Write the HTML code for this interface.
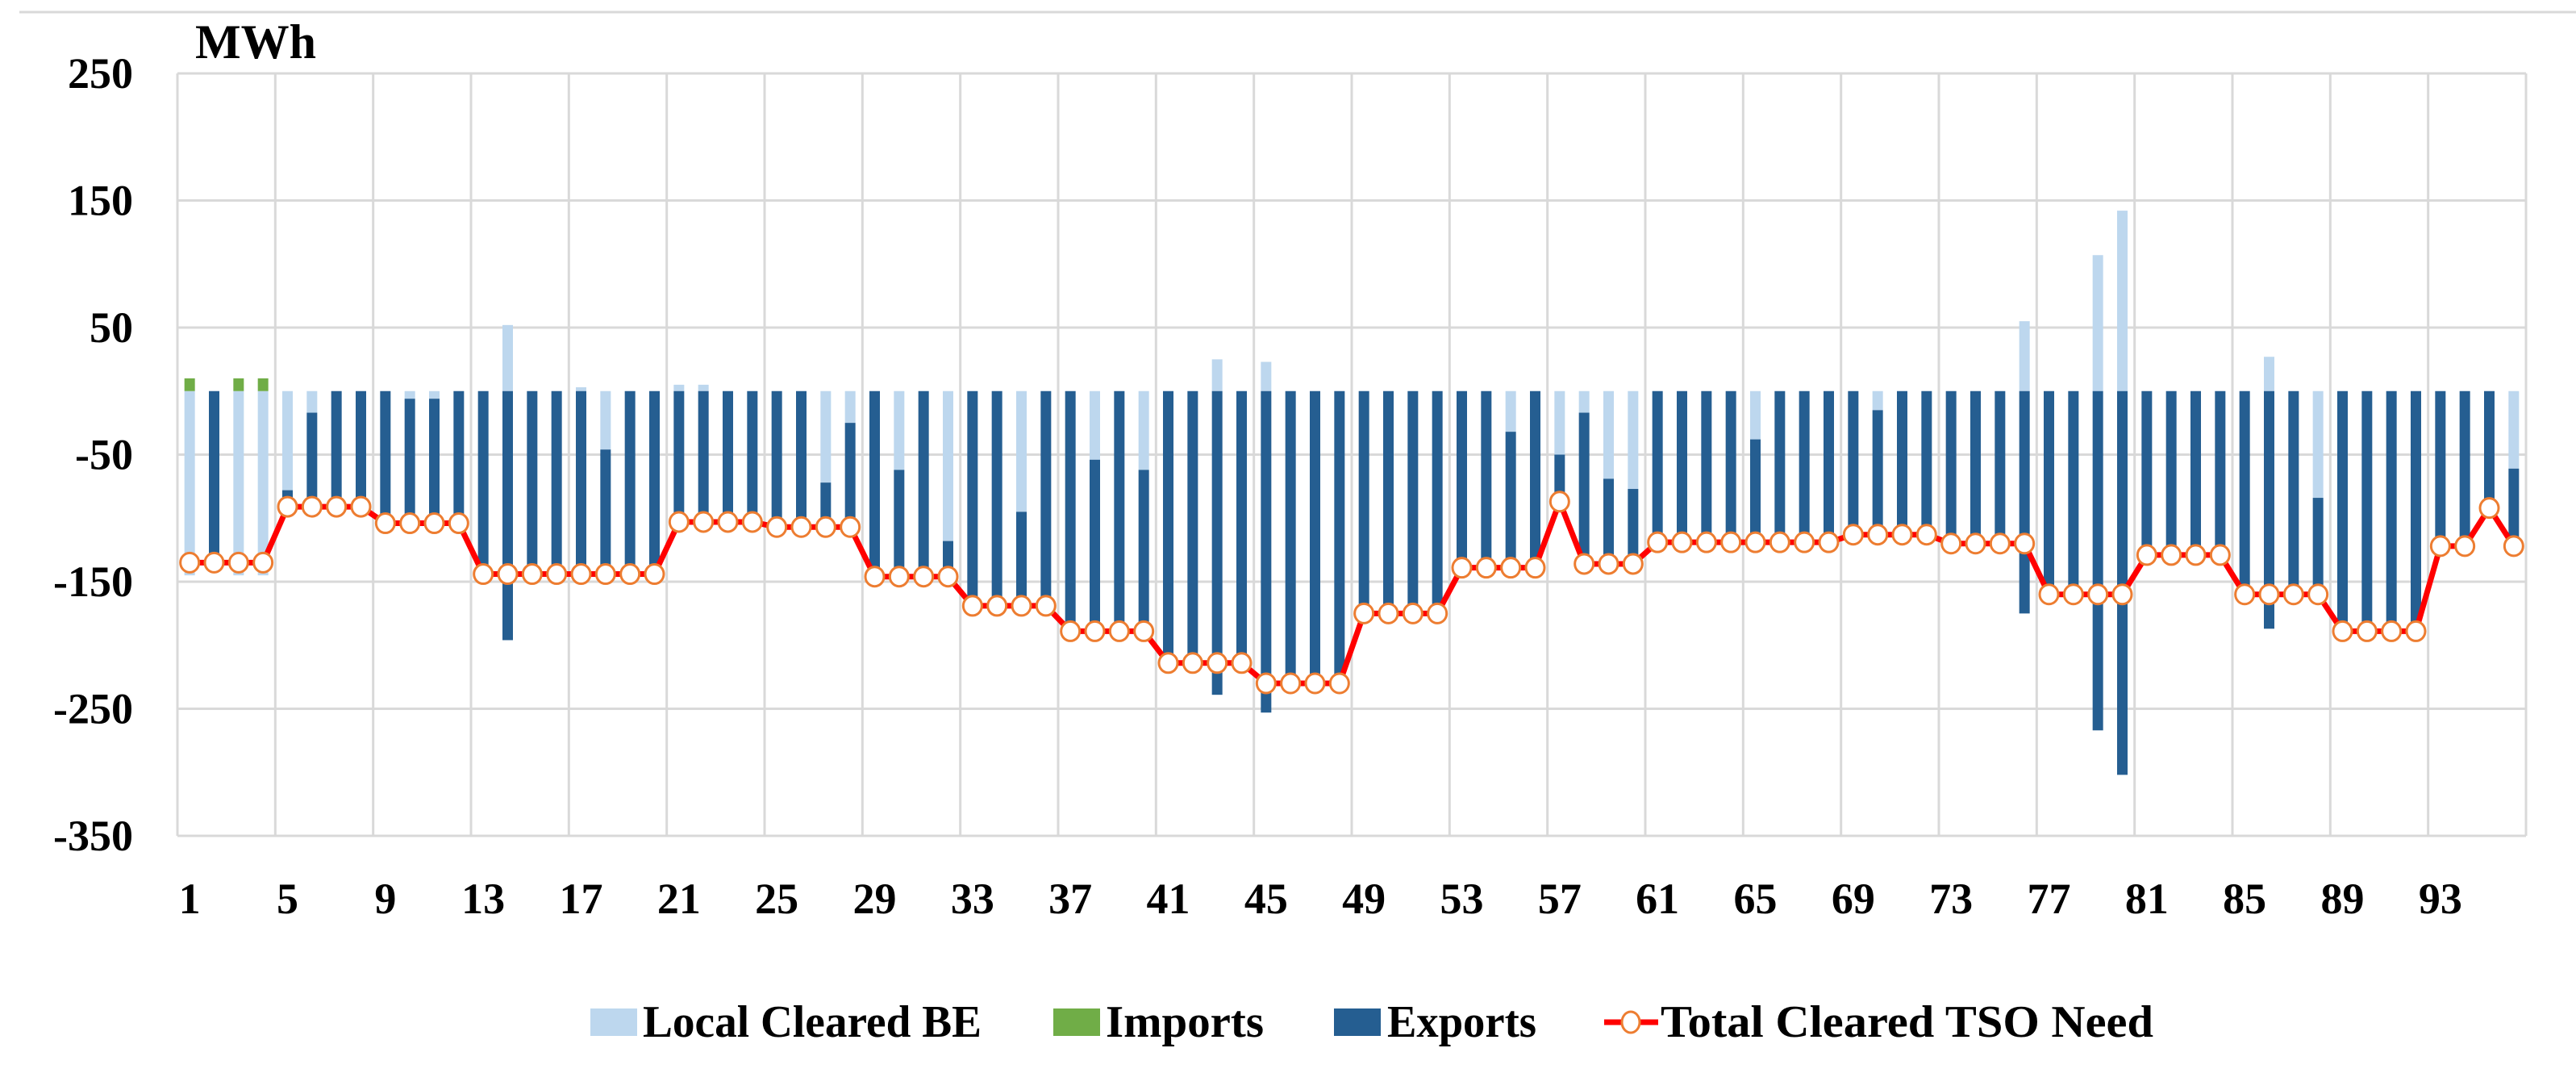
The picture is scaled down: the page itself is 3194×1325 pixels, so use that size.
<!DOCTYPE html>
<html><head><meta charset="utf-8"><style>
html,body{margin:0;padding:0;background:#fff}
svg{display:block}
text{font-family:"Liberation Serif",serif;fill:#000}
</style></head><body>
<svg id="chart" width="3194" height="1325" viewBox="0 0 3194 1325" xmlns="http://www.w3.org/2000/svg">
<line x1="24" y1="15" x2="3194" y2="15" stroke="#d9d9d9" stroke-width="3"/>
<text x="242" y="72" font-size="60" font-weight="bold">MWh</text>
<g id="grid"></g>
<g id="bars"></g>
<g id="line"></g>
<g id="axes"></g>
<g id="legend">
  <g>
    <rect x="732" y="1250" width="58" height="34" fill="#bdd7ee"/>
    <text x="797" y="1285" font-size="56" font-weight="bold" textLength="420" lengthAdjust="spacingAndGlyphs">Local Cleared BE</text>
  </g>
  <g>
    <rect x="1306" y="1250" width="58" height="34" fill="#70ad47"/>
    <text x="1371" y="1285" font-size="56" font-weight="bold" textLength="196" lengthAdjust="spacingAndGlyphs">Imports</text>
  </g>
  <g>
    <rect x="1654" y="1250" width="58" height="34" fill="#255e91"/>
    <text x="1720" y="1285" font-size="56" font-weight="bold" textLength="185" lengthAdjust="spacingAndGlyphs">Exports</text>
  </g>
  <g>
    <line x1="1989" y1="1267" x2="2056" y2="1267" stroke="#ff0000" stroke-width="7"/>
    <ellipse cx="2022" cy="1267" rx="11" ry="13" fill="#fff" stroke="#ed7d31" stroke-width="3"/>
    <text x="2059" y="1285" font-size="56" font-weight="bold" textLength="611" lengthAdjust="spacingAndGlyphs">Total Cleared TSO Need</text>
  </g>
</g>
</svg>
<script>
const localBE = [-145,0,-145,-145,-78,-17,0,0,0,-6,-6,0,0,52,0,0,3,-46,0,0,
5,5,0,0,0,0,-72,-25,0,-62,0,-118,0,0,-95,0,0,-54,0,-62,
0,0,25,0,23,0,0,0,0,0,0,0,0,0,-32,0,-50,-17,-69,-77,
0,0,0,0,-38,0,0,0,0,-15,0,0,0,0,0,55,0,0,107,142,
0,0,0,0,0,27,0,-84,0,0,0,0,0,0,0,-61];
const imports = [10,0,10,10,0,0,0,0,0,0,0,0,0,0,0,0,0,0,0,0,
0,0,0,0,0,0,0,0,0,0,0,0,0,0,0,0,0,0,0,0,
0,0,0,0,0,0,0,0,0,0,0,0,0,0,0,0,0,0,0,0,
0,0,0,0,0,0,0,0,0,0,0,0,0,0,0,0,0,0,0,0,
0,0,0,0,0,0,0,0,0,0,0,0,0,0,0,0];
const exportsV = [0,-135,0,0,-13,-74,-91,-91,-104,-98,-98,-104,-144,-196,-144,-144,-147,-98,-144,-144,
-108,-108,-103,-103,-107,-107,-35,-82,-146,-84,-146,-28,-169,-169,-74,-169,-189,-135,-189,-127,
-214,-214,-239,-214,-253,-230,-230,-230,-175,-175,-175,-175,-139,-139,-107,-139,-37,-119,-67,-59,
-119,-119,-119,-119,-81,-119,-119,-119,-113,-98,-113,-113,-120,-120,-120,-175,-160,-160,-267,-302,
-129,-129,-129,-129,-160,-187,-160,-76,-189,-189,-189,-189,-122,-122,-92,-61];
const totalNeed = [-135,-135,-135,-135,-91,-91,-91,-91,-104,-104,-104,-104,-144,-144,-144,-144,-144,-144,-144,-144,
-103,-103,-103,-103,-107,-107,-107,-107,-146,-146,-146,-146,-169,-169,-169,-169,-189,-189,-189,-189,
-214,-214,-214,-214,-230,-230,-230,-230,-175,-175,-175,-175,-139,-139,-139,-139,-87,-136,-136,-136,
-119,-119,-119,-119,-119,-119,-119,-119,-113,-113,-113,-113,-120,-120,-120,-120,-160,-160,-160,-160,
-129,-129,-129,-129,-160,-160,-160,-160,-189,-189,-189,-189,-122,-122,-92,-122];
const yTicks = [250,150,50,-50,-150,-250,-350];
const xTickLabels = ["1","5","9","13","17","21","25","29","33","37","41","45","49","53","57","61","65","69","73","77","81","85","89","93"];

const NS = "http://www.w3.org/2000/svg";
const L = 220, R = 3132, T = 91, B = 1036, yMax = 250, yMin = -350;
const n = localBE.length, cw = (R - L) / n, bw = 13;
const y = v => T + (yMax - v) / (yMax - yMin) * (B - T);
const x = i => L + (i + 0.5) * cw;
function mk(tag, parent, attrs) { const e = document.createElementNS(NS, tag); for (const k in attrs) e.setAttribute(k, attrs[k]); parent.appendChild(e); return e; }
const grid = document.getElementById('grid'), bars = document.getElementById('bars'), line = document.getElementById('line'), axes = document.getElementById('axes');

yTicks.forEach(t => {
  const g = mk('line', grid, {x1: L, x2: R, y1: y(t), y2: y(t), stroke: '#d9d9d9', 'stroke-width': 3});
  
  
  const tx = mk('text', axes, {x: 165, y: y(t) + 18, 'font-size': 54, 'font-weight': 'bold', 'text-anchor': 'end'});
  tx.textContent = t;
  
  
});
for (let k = 0; k <= n; k += 4) {
  const gx = L + k * cw;
  const g = mk('line', grid, {x1: gx, x2: gx, y1: T, y2: B, stroke: '#d9d9d9', 'stroke-width': 3});
  
  
}
mk('line', grid, {x1: R, x2: R, y1: T, y2: B, stroke: '#d9d9d9', 'stroke-width': 3});
xTickLabels.forEach((lab, j) => {
  const i = parseInt(lab) - 1;
  const tx = mk('text', axes, {x: x(i), y: 1132, 'font-size': 54, 'font-weight': 'bold', 'text-anchor': 'middle'});
  tx.textContent = lab;
  
  
});

for (let i = 0; i < n; i++) {
  let pos = 0, neg = 0;
  const segs = [[localBE[i], '#bdd7ee', 'bar-local'], [imports[i], '#70ad47', 'bar-imports'], [exportsV[i], '#255e91', 'bar-exports']];
  segs.forEach(([v, col, name]) => {
    if (!v) return;
    let a, b;
    if (v > 0) { a = pos; b = pos + v; pos = b; } else { a = neg; b = neg + v; neg = b; }
    const r = mk('rect', bars, {x: x(i) - bw / 2, y: Math.min(y(a), y(b)), width: bw, height: Math.abs(y(a) - y(b)), fill: col});
    
    
  });
}
const pts = totalNeed.map((v, i) => x(i) + ',' + y(v)).join(' ');
const pl = mk('polyline', line, {points: pts, fill: 'none', stroke: '#ff0000', 'stroke-width': 7, 'stroke-linejoin': 'round'});


totalNeed.forEach((v, i) => {
  const c = mk('ellipse', line, {cx: x(i), cy: y(v), rx: 11.5, ry: 12, fill: '#fff', stroke: '#ed7d31', 'stroke-width': 3});
  
  
});
</script>
</body></html>
